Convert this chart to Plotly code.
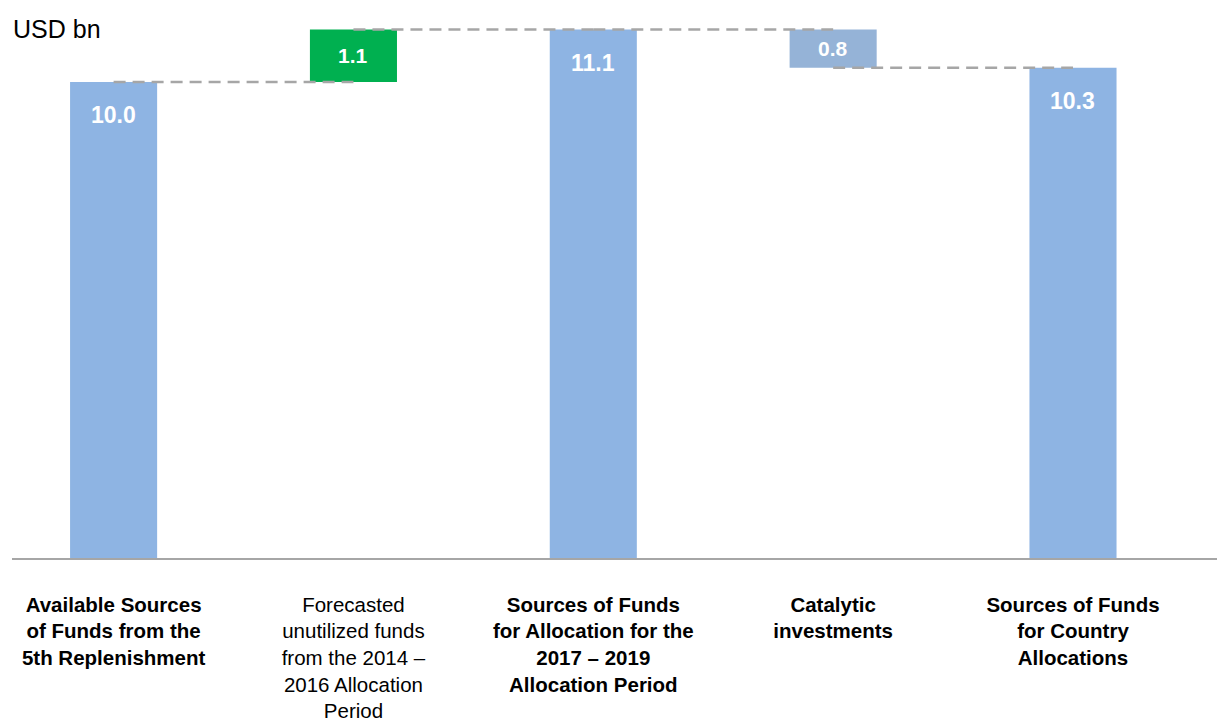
import plotly.graph_objects as go

# ---- data ----
categories = ["avail", "forecast", "sources", "catalytic", "country"]
tick_labels = [
    "<b>Available Sources<br>of Funds from the<br>5th Replenishment</b>",
    "Forecasted<br>unutilized funds<br>from the 2014 –<br>2016 Allocation<br>Period",
    "<b>Sources of Funds<br>for Allocation for the<br>2017 – 2019<br>Allocation Period</b>",
    "<b>Catalytic<br>investments</b>",
    "<b>Sources of Funds<br>for Country<br>Allocations</b>",
]
values = [10.0, 1.1, 11.1, -0.8, 10.3]
measures = ["absolute", "relative", "total", "relative", "total"]
unit_label = "USD bn"

# ---- styles ----
FONT = "Liberation Sans, Arial, sans-serif"
TOTAL_COLOR = "#8EB4E3"
INC_COLOR = "#00B050"
DEC_COLOR = "#95B3D7"
DASH_COLOR = "#A6A6A6"

# cumulative levels (bottom/top of each bar) derived from the data
levels = []
bottoms = []
running = 0.0
for v, m in zip(values, measures):
    if m == "absolute":
        bottoms.append(0.0)
        running = v
    elif m == "total":
        bottoms.append(0.0)
    else:
        bottoms.append(running)
        running = running + v
    levels.append(running)

fig = go.Figure()
fig.add_trace(go.Waterfall(
    x=categories,
    y=values,
    measure=measures,
    totals=dict(marker=dict(color=TOTAL_COLOR, line=dict(width=0))),
    increasing=dict(marker=dict(color=INC_COLOR, line=dict(width=0))),
    decreasing=dict(marker=dict(color=DEC_COLOR, line=dict(width=0))),
    connector=dict(visible=False),
    textinfo="none",
    hoverinfo="skip",
    showlegend=False,
))

# dashed connectors from centre of a bar to the centre of the next one
cx, cy = [], []
for i in range(len(categories) - 1):
    cx += [categories[i], categories[i + 1], None]
    cy += [levels[i], levels[i], None]
fig.add_trace(go.Scatter(
    x=cx, y=cy, mode="lines",
    line=dict(color=DASH_COLOR, width=2.5, dash="12px,7px"),
    hoverinfo="skip", showlegend=False, connectgaps=False,
))

# value labels
annotations = []
for i, (v, m) in enumerate(zip(values, measures)):
    if m == "relative":
        mid = (bottoms[i] + levels[i]) / 2
        annotations.append(dict(
            x=categories[i], y=mid, xref="x", yref="y",
            text="<b>%.1f</b>" % abs(v), showarrow=False,
            font=dict(family=FONT, size=21, color="white"),
            xanchor="center", yanchor="middle",
        ))
    else:
        annotations.append(dict(
            x=categories[i], y=levels[i], xref="x", yref="y",
            text="<b>%.1f</b>" % levels[i], showarrow=False,
            font=dict(family=FONT, size=23, color="white"),
            xanchor="center", yanchor="middle", yshift=-33,
        ))

annotations.append(dict(
    x=0, y=1, xref="paper", yref="paper",
    text=unit_label, showarrow=False,
    font=dict(family=FONT, size=25, color="black"),
    xanchor="left", yanchor="middle", xshift=-1, yshift=-9,
))

fig.update_layout(
    width=1217, height=723,
    margin=dict(l=12, r=0, t=20, b=165, autoexpand=False),
    paper_bgcolor="white", plot_bgcolor="white",
    waterfallgap=0.637,
    annotations=annotations,
    font=dict(family=FONT, color="black"),
    xaxis=dict(
        type="category",
        categoryorder="array", categoryarray=categories,
        range=[-0.4236, 4.6004],
        tickvals=categories, ticktext=tick_labels,
        tickfont=dict(family=FONT, size=20.5, color="black"),
        showline=True, linecolor="#A6A6A6", linewidth=2,
        ticks="outside", ticklen=27, tickcolor="rgba(0,0,0,0)",
        showgrid=False, zeroline=False, fixedrange=True,
        automargin=False,
    ),
    yaxis=dict(
        range=[0, 11.302],
        showticklabels=False, showgrid=False, zeroline=False,
        showline=False, ticks="", fixedrange=True, automargin=False,
    ),
)

fig.write_html(
    "out.html",
    config={"displayModeBar": False},
    post_script="document.body.style.margin='0';document.body.style.overflow='hidden';",
)
